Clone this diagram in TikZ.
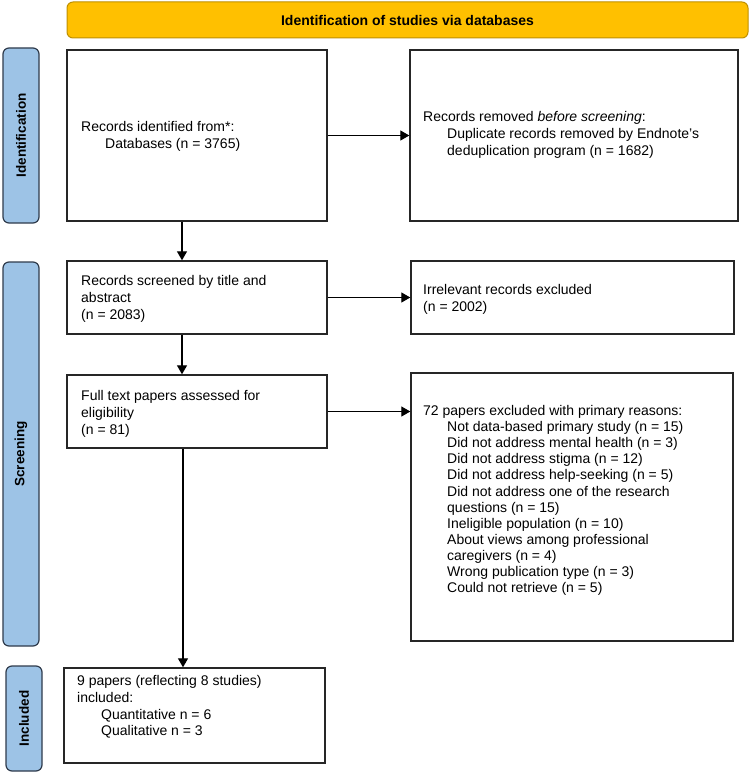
\documentclass[tikz,border=0pt]{standalone}
\usepackage{fontspec}
\setmainfont{Liberation Sans}
\usetikzlibrary{arrows.meta}
\definecolor{bannerfill}{HTML}{FFC000}
\definecolor{bannerdraw}{HTML}{BF9000}
\definecolor{sidefill}{HTML}{9DC3E6}
\definecolor{sidedraw}{HTML}{2F3B4C}
\tikzset{
  box/.style={draw=black!85, line width=1.4pt, fill=white, inner sep=0pt},
  txt/.style={align=left, inner sep=0pt, font=\fontsize{14}{16.8}\selectfont, anchor=west},
  sidebox/.style={draw=sidedraw, line width=1.2pt, fill=sidefill, rounded corners=6pt, inner sep=0pt, minimum width=36pt},
  sidelabel/.style={rotate=90, font=\bfseries\fontsize{13.5}{15}\selectfont, inner sep=0pt},
  banner/.style={draw=bannerdraw, line width=1pt, fill=bannerfill, rounded corners=6pt, inner sep=0pt, font=\bfseries\fontsize{14}{16}\selectfont},
  conn/.style={draw=black, line width=1.2pt, -{Triangle[length=9pt,width=10pt]}}
}
\newcommand{\ind}{\hspace*{24pt}}
\begin{document}
\begin{tikzpicture}[x=1pt,y=-1pt]
\useasboundingbox (0,0) rectangle (750,773);
\fill[white] (0,0) rectangle (750,773);

% banner
\node[banner, minimum width=681pt, minimum height=36pt] (ban) at (407.5,20) {Identification of studies via databases};

% side labels
\node[sidebox, minimum height=175pt] (sid) at (21,135.5) {};
\node[sidelabel] (sidt) at (sid.center) {Identification};
\node[sidebox, minimum height=384pt] (sscr) at (21,454) {};
\node[sidelabel] (sscrt) at (sscr.center) {Screening};
\node[sidebox, minimum height=105pt] (sinc) at (24,718.5) {};
\node[sidelabel] (sinct) at (sinc.center) {Included};

% boxes
\node[box, minimum width=260pt, minimum height=171pt] (id) at (197,135.5) {};
\node[box, minimum width=328pt, minimum height=171pt] (rem) at (574,135.5) {};
\node[box, minimum width=260pt, minimum height=73pt] (scr) at (197,297.5) {};
\node[box, minimum width=323pt, minimum height=73pt] (irr) at (572.5,297.5) {};
\node[box, minimum width=260pt, minimum height=73pt] (full) at (197,411.5) {};
\node[box, minimum width=322pt, minimum height=268pt] (excl) at (572,507) {};
\node[box, minimum width=261pt, minimum height=95pt] (incl) at (194.5,715.5) {};

% texts
\node[txt] (idt) at (81,136) {Records identified from*:\\\ind Databases (n = 3765)};
\node[txt] (remt) at (423,135) {Records removed \textit{before screening}:\\\ind Duplicate records removed by Endnote's\\\ind deduplication program (n = 1682)};
\node[txt] (scrt) at (81,299) {Records screened by title and\\abstract\\(n = 2083)};
\node[txt] (irrt) at (423,299) {Irrelevant records excluded\\(n = 2002)};
\node[txt] (fullt) at (81,414) {Full text papers assessed for\\eligibility\\(n = 81)};
\node[txt, font=\fontsize{14}{16.1}\selectfont] (exclt) at (423,500.5) {72 papers excluded with primary reasons:\\
\ind Not data-based primary study (n = 15)\\
\ind Did not address mental health (n = 3)\\
\ind Did not address stigma (n = 12)\\
\ind Did not address help-seeking (n = 5)\\
\ind Did not address one of the research\\
\ind questions (n = 15)\\
\ind Ineligible population (n = 10)\\
\ind About views among professional\\
\ind caregivers (n = 4)\\
\ind Wrong publication type (n = 3)\\
\ind Could not retrieve (n = 5)};
\node[txt] (inclt) at (77,707) {9 papers (reflecting 8 studies)\\included:\\\ind Quantitative n = 6\\\ind Qualitative n = 3};

% connectors
\coordinate (col) at (182,0);
\coordinate (col2) at (183,0);
\draw[conn] (id.east) -- (rem.west);
\draw[conn] (scr.east) -- (irr.west);
\draw[conn] (full.east) -- (full.east -| excl.west);
\draw[conn] (id.south -| col) -- (scr.north -| col);
\draw[conn] (scr.south -| col) -- (full.north -| col);
\draw[conn] (full.south -| col2) -- (incl.north -| col2);
\end{tikzpicture}
\end{document}
